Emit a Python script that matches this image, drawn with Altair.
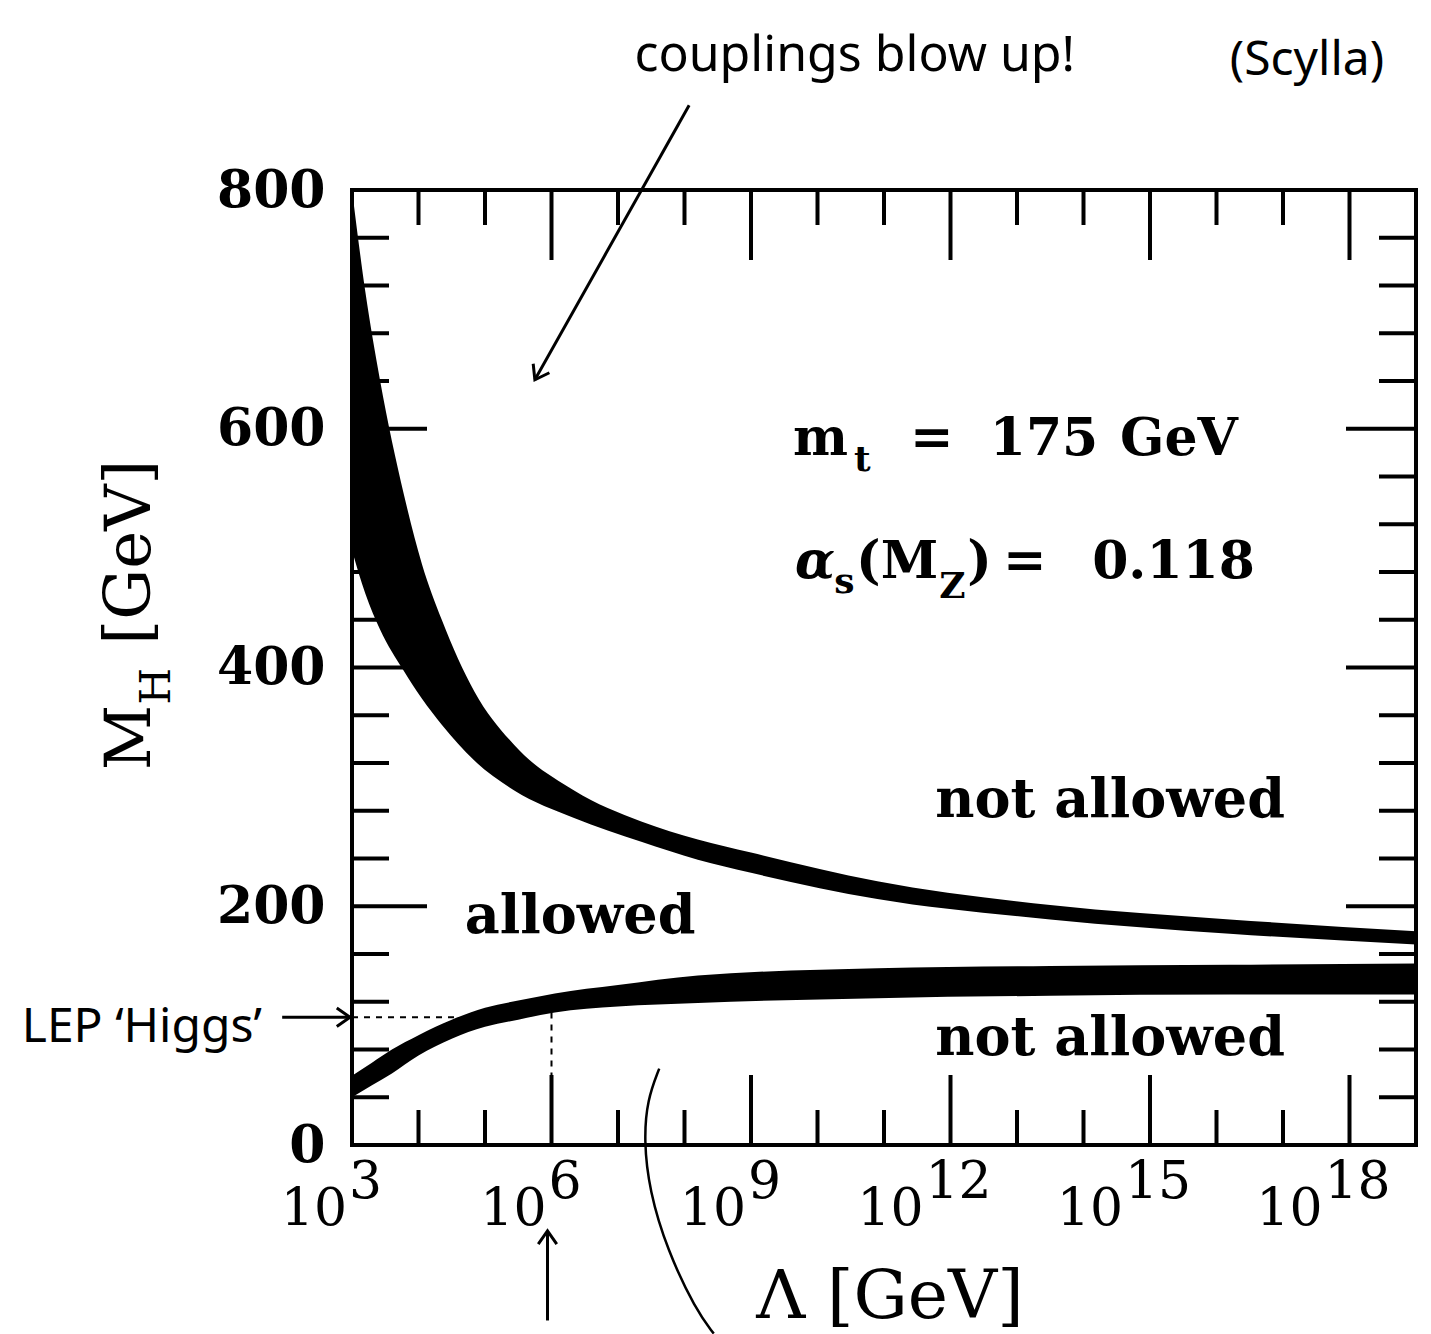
import altair as alt
import pandas as pd

# ---------------- data (x values are log10 of Lambda / GeV, y values in GeV) ----------------
# upper band: triviality ("couplings blow up") bound
up_exp = [3.0, 3.2, 3.42, 3.78, 4.05, 4.35, 4.84, 5.44, 6.34, 7.35, 8.2, 9.0, 10.9, 13.5, 16.2, 19.0]
up_hi = [800, 715, 641, 545, 487, 440, 380, 335, 297, 271, 256, 245, 221, 201, 189, 179]
up_lo = [498, 462, 432, 397, 374, 352, 322, 297, 274, 254, 239, 228, 206, 189, 177, 168]

# lower band: vacuum stability bound
lo_exp = [3.0, 3.3, 3.6, 4.0, 4.5, 5.0, 5.5, 6.05, 7.0, 8.2, 10.9, 13.5, 16.2, 19.0]
lo_hi = [58, 69, 80, 92, 105, 115, 121, 127, 134, 142, 148, 150, 151, 152]
lo_lo = [40, 50, 60, 75, 89, 99, 105, 111, 116, 119, 123, 125, 126, 126]

# axis ticks
y_label_values = [0, 200, 400, 600, 800]
y_minor = [40, 80, 120, 160, 240, 280, 320, 360, 440, 480, 520, 560, 640, 680, 720, 760]
y_major = [200, 400, 600]
x_minor_exp = [4, 5, 7, 8, 10, 11, 13, 14, 16, 17]
x_major_exp = [6, 9, 12, 15, 18]
x_label_exp = [3, 6, 9, 12, 15, 18]
x_label_sup = ["3", "6", "9", "12", "15", "18"]

# LEP 'Higgs' limit guide lines
lep_mass = 107
lep_end_exp = 4.57
lambda_mark_exp = 6.0
lambda_mark_top = 111

# annotation texts (text, log10 Lambda, GeV, font size)
bold_texts = [
    ("m", 9.63, 578, 52), ("t", 10.55, 565, 36), ("=", 11.39, 578, 52),
    ("175", 12.59, 578, 52), ("GeV", 14.55, 578, 52),
    ("s", 10.25, 462, 36), ("(M", 10.58, 475, 52), ("Z", 11.83, 458, 36),
    (")", 12.25, 475, 52), ("=", 12.79, 475, 52), ("0.118", 14.13, 475, 52),
]
alpha_text = [("α", 9.66, 475, 52)]
center_texts = [("not allowed", 14.40, 275, 54), ("allowed", 6.43, 178, 54),
                ("not allowed", 14.40, 75, 54)]
ytitle_texts = [("M", -0.04, 314, 64), ("H", 0.26, 369, 42), ("[GeV]", -0.04, 419, 64)]
xtitle_text = [("Λ [GeV]", 11.09, -145, 68)]
hand_texts = [("couplings blow up!", 10.56, 900, 50), ("(Scylla)", 17.36, 896, 48),
              ("LEP  ‘Higgs’", -0.16, 86, 48)]

# hand-drawn arrows: (start exp, start GeV, tip exp, tip GeV, head angle)
arrows = [
    (8.07, 871, 5.75, 641, 29),
    (1.95, lep_mass, 2.97, lep_mass, 270),
    (5.94, -147, 5.94, -72, 180),
]
# hand-drawn curve below the plot
curve_exp = [7.62, 7.44, 7.39, 7.47, 7.74, 8.17, 8.44]
curve_gev = [64, 38, 4, -38, -88, -138, -158]

# ---------------- chart ----------------
W, H = 1064, 955
SERIF = "DejaVu Serif"
HAND = "Noto Sans"


def L(e):
    return 10.0 ** e


xscale = alt.Scale(type="log", domain=[1e3, 1e19], nice=False)
yscale = alt.Scale(domain=[0, 800], nice=False, zero=False)
yaxis = alt.Axis(values=y_label_values, ticks=False, domain=False, grid=False,
                 labelFont=SERIF, labelFontWeight="bold", labelFontSize=52,
                 labelPadding=27, labelColor="black", title=None)

X = lambda f="lam": alt.X(f"{f}:Q", scale=xscale, axis=None)
Y = lambda f="gev": alt.Y(f"{f}:Q", scale=yscale, axis=yaxis)

up_df = pd.DataFrame({"lam": [L(e) for e in up_exp], "hi": up_hi, "lo": up_lo})
lo_df = pd.DataFrame({"lam": [L(e) for e in lo_exp], "hi": lo_hi, "lo": lo_lo})

band_up = alt.Chart(up_df).mark_area(color="black", interpolate="monotone").encode(
    x=X(), y=Y("hi"), y2="lo:Q")
band_lo = alt.Chart(lo_df).mark_area(color="black", interpolate="monotone").encode(
    x=X(), y=Y("lo"), y2="hi:Q")

layers = [band_up, band_lo]

TW = 4
ymin_df = pd.DataFrame({"gev": y_minor})
ymaj_df = pd.DataFrame({"gev": y_major})
xmin_df = pd.DataFrame({"lam": [L(e) for e in x_minor_exp]})
xmaj_df = pd.DataFrame({"lam": [L(e) for e in x_major_exp]})

for df, ln_l, ln_r in [(ymin_df, 37, 37), (ymaj_df, 75, 70)]:
    layers.append(alt.Chart(df).mark_rule(color="black", strokeWidth=TW).encode(
        y=Y(), x=alt.value(0), x2=alt.value(ln_l)))
    layers.append(alt.Chart(df).mark_rule(color="black", strokeWidth=TW).encode(
        y=Y(), x=alt.value(W - ln_r), x2=alt.value(W)))
for df, ln in [(xmin_df, 35), (xmaj_df, 70)]:
    layers.append(alt.Chart(df).mark_rule(color="black", strokeWidth=TW).encode(
        x=X(), y=alt.value(0), y2=alt.value(ln)))
    layers.append(alt.Chart(df).mark_rule(color="black", strokeWidth=TW).encode(
        x=X(), y=alt.value(H - ln), y2=alt.value(H)))

# dashed LEP guides
lep_h = pd.DataFrame({"lam": [1e3], "lam2": [L(lep_end_exp)], "gev": [lep_mass]})
lep_v = pd.DataFrame({"lam": [L(lambda_mark_exp)], "gev": [lambda_mark_top], "gev2": [0]})
layers.append(alt.Chart(lep_h).mark_rule(color="black", strokeWidth=2, strokeDash=[6, 6]).encode(
    x=X(), x2="lam2:Q", y=Y()))
layers.append(alt.Chart(lep_v).mark_rule(color="black", strokeWidth=2, strokeDash=[6, 6]).encode(
    x=X(), y=Y(), y2="gev2:Q"))

# x tick labels: "10" + raised exponent
xl_df = pd.DataFrame({"lam": [L(e) for e in x_label_exp], "e": x_label_exp,
                      "sup": x_label_sup, "base": ["10"] * len(x_label_exp),
                      "gev_b": [-67] * len(x_label_exp), "gev_s": [-44] * len(x_label_exp)})
for cond, dx_b, dx_s in [(alt.datum.e < 10, -5, -3), (alt.datum.e >= 10, -27, -25)]:
    layers.append(alt.Chart(xl_df).transform_filter(cond).mark_text(
        font=SERIF, fontSize=52, align="right", baseline="alphabetic", dx=dx_b, color="black").encode(
        x=X(), y=Y("gev_b"), text="base:N"))
    layers.append(alt.Chart(xl_df).transform_filter(cond).mark_text(
        font=SERIF, fontSize=52, align="left", baseline="alphabetic", dx=dx_s, color="black").encode(
        x=X(), y=Y("gev_s"), text="sup:N"))


def tdf(items):
    return pd.DataFrame({"t": [a[0] for a in items], "lam": [L(a[1]) for a in items],
                         "gev": [a[2] for a in items], "s": [a[3] for a in items]})


def text_layer(items, **kw):
    return alt.Chart(tdf(items)).mark_text(color="black", baseline="alphabetic", **kw).encode(
        x=X(), y=Y(), text="t:N", size=alt.Size("s:Q", scale=None))


layers.append(text_layer(bold_texts, font=SERIF, fontWeight="bold", align="left"))
layers.append(text_layer(alpha_text, font=SERIF, fontWeight="bold", fontStyle="italic", align="left"))
layers.append(text_layer(center_texts, font=SERIF, fontWeight="bold", align="center"))
layers.append(text_layer(ytitle_texts, font=SERIF, align="left", angle=270))
layers.append(text_layer(xtitle_text, font=SERIF, align="center"))
layers.append(text_layer(hand_texts, font=HAND, align="center"))

# hand-drawn arrows
ar_df = pd.DataFrame({"lam": [L(a[0]) for a in arrows], "gev": [a[1] for a in arrows],
                      "lam2": [L(a[2]) for a in arrows], "gev2": [a[3] for a in arrows],
                      "ang": [a[4] for a in arrows]})
layers.append(alt.Chart(ar_df).mark_rule(color="black", strokeWidth=3).encode(
    x=X(), y=Y(), x2="lam2:Q", y2="gev2:Q"))
layers.append(alt.Chart(ar_df).mark_point(
    shape="M -0.7 -1 L 0 0 L 0.7 -1", filled=False, color="black", strokeWidth=3,
    size=700, opacity=1).encode(
    x=X("lam2"), y=Y("gev2"), angle=alt.Angle("ang:Q", scale=None)))

cv_df = pd.DataFrame({"lam": [L(e) for e in curve_exp], "gev": curve_gev,
                      "i": list(range(len(curve_exp)))})
layers.append(alt.Chart(cv_df).mark_line(color="black", strokeWidth=2.5, interpolate="basis").encode(
    x=X(), y=Y(), order="i:O"))

chart = alt.layer(*layers).properties(
    width=W, height=H,
    autosize=alt.AutoSizeParams(type="none"),
    padding={"left": 352, "top": 190, "right": 15, "bottom": 189},
    background="white",
).configure_view(stroke="black", strokeWidth=4)

chart.save("out.html", embed_options={"renderer": "svg", "actions": False})
